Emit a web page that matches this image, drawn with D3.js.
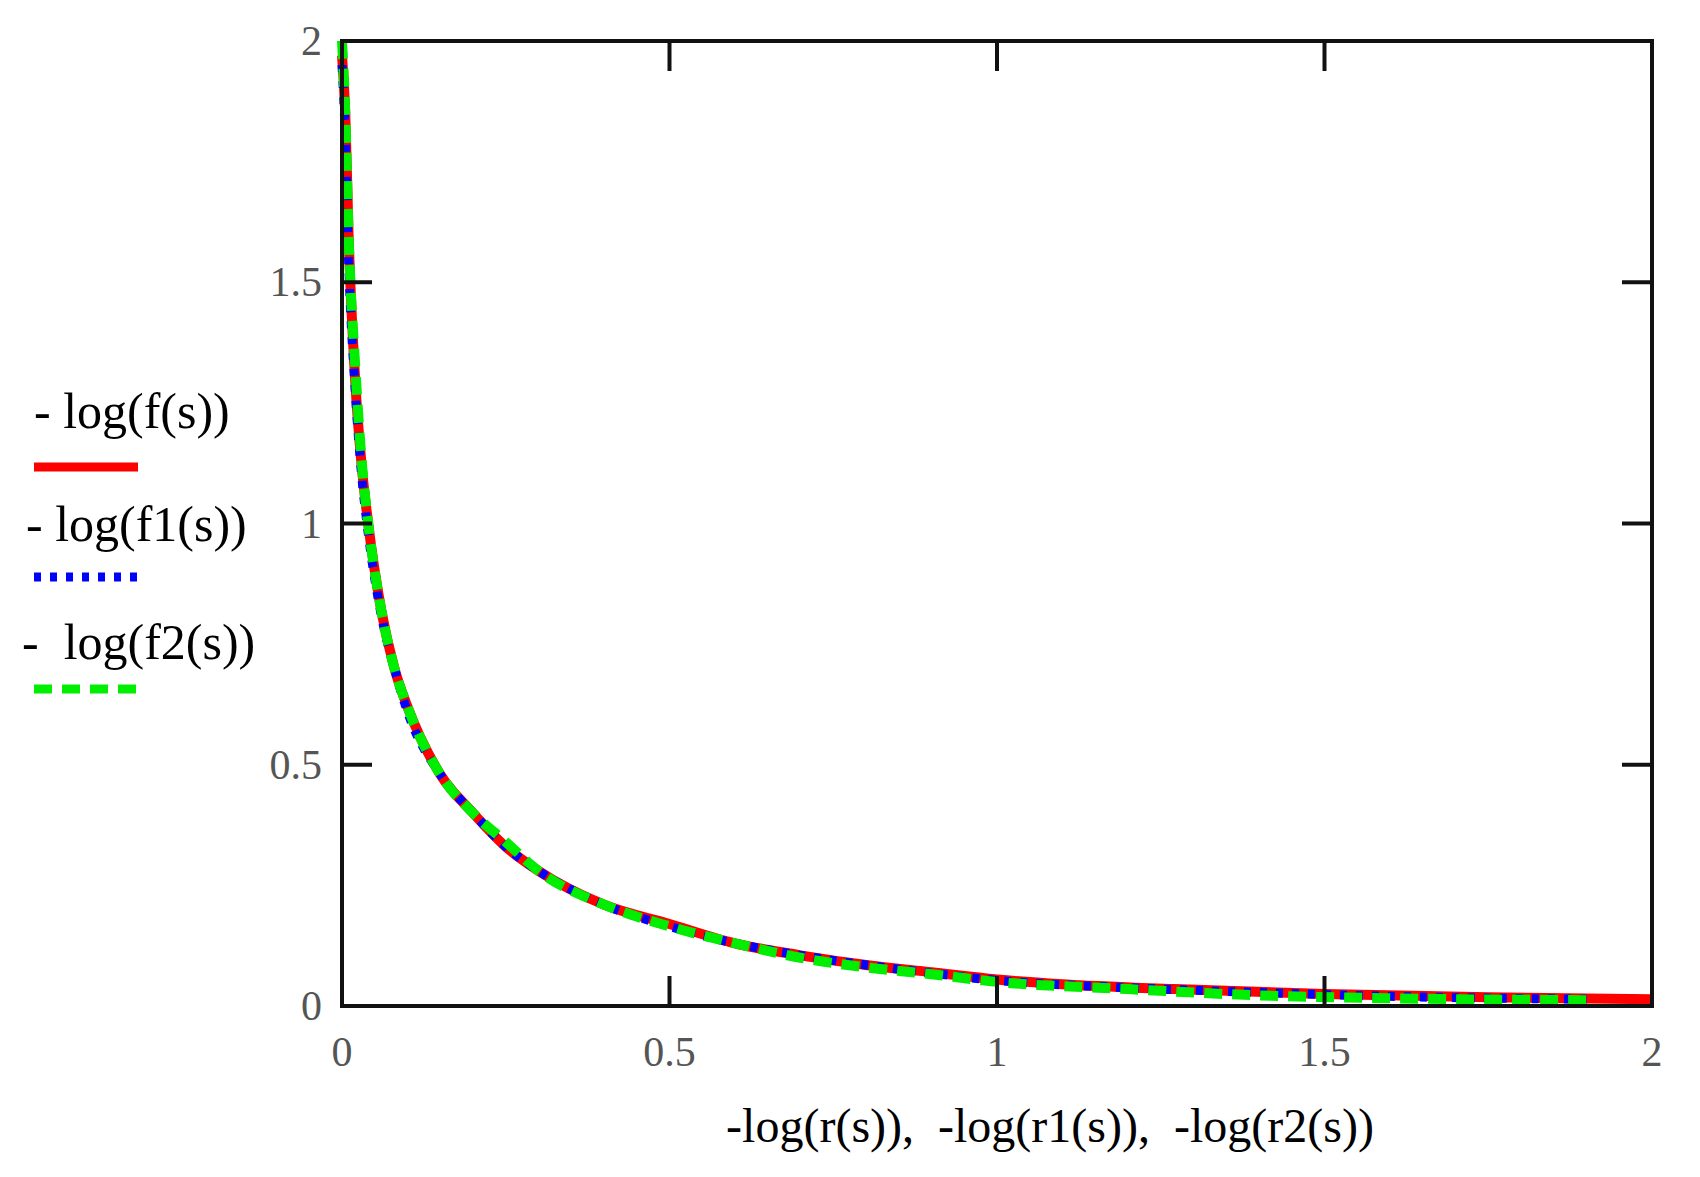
<!DOCTYPE html>
<html><head><meta charset="utf-8">
<script src="https://cdn.jsdelivr.net/npm/d3@7"></script>
<style>body{margin:0;background:#fff}</style>
</head><body>
<script>
var width = 1700, height = 1177
var ticks = [0, 0.5, 1, 1.5, 2]
var tickLabels = ['0', '0.5', '1', '1.5', '2']

// -log(r(s)) vs -log(f(s))
var fX = [0, 0.005, 0.01, 0.02, 0.03, 0.04, 0.06, 0.08, 0.1, 0.15, 0.2, 0.25, 0.3, 0.4, 0.5, 0.6, 0.7, 0.8, 0.9, 1.0, 1.1, 1.27, 1.5, 1.75, 2.0]
var fY = [1.97, 1.85, 1.6, 1.3, 1.12, 1.0, 0.82, 0.7, 0.62, 0.48, 0.4, 0.33, 0.28, 0.21, 0.17, 0.13, 0.105, 0.085, 0.07, 0.055, 0.045, 0.035, 0.025, 0.018, 0.014]
var f1X = [0, 0.005, 0.01, 0.02, 0.03, 0.04, 0.06, 0.08, 0.1, 0.15, 0.2, 0.25, 0.3, 0.4, 0.5, 0.6, 0.7, 0.8, 0.9, 1.0, 1.2, 1.4, 1.6, 1.9]
var f1Y = [1.95, 1.8, 1.55, 1.28, 1.1, 0.98, 0.81, 0.7, 0.61, 0.48, 0.4, 0.33, 0.28, 0.21, 0.165, 0.13, 0.105, 0.085, 0.068, 0.053, 0.038, 0.028, 0.02, 0.014]
var f2X = [0, 0.005, 0.01, 0.02, 0.03, 0.04, 0.06, 0.08, 0.1, 0.15, 0.2, 0.25, 0.3, 0.4, 0.5, 0.6, 0.7, 0.8, 0.9, 1.0, 1.2, 1.4, 1.6, 1.9]
var f2Y = [2.0, 1.85, 1.6, 1.33, 1.13, 1.0, 0.82, 0.7, 0.62, 0.48, 0.4, 0.34, 0.28, 0.21, 0.165, 0.13, 0.1, 0.08, 0.066, 0.05, 0.035, 0.022, 0.016, 0.012]

var L = 342, R = 1652, T = 41, B = 1006
var svg = d3.select('body').append('svg').attr('width', width).attr('height', height)
var x = d3.scaleLinear().domain([0, 2]).range([L, R])
var y = d3.scaleLinear().domain([0, 2]).range([B, T])

function zip(xs, ys) { return xs.map(function (v, i) { return [v, ys[i]] }) }
var line = d3.line().x(function (d) { return x(d[0]) }).y(function (d) { return y(d[1]) }).curve(d3.curveMonotoneX)

var series = [
    { pts: zip(fX, fY), color: '#ff0000', dash: null, w: 10 },
    { pts: zip(f1X, f1Y), color: '#0000ff', dash: '7,9', w: 9 },
    { pts: zip(f2X, f2Y), color: '#00ee00', dash: '18,10', w: 10 }
]
series.forEach(function (s) {
    svg.append('path').datum(s.pts).attr('d', line).attr('fill', 'none')
        .attr('stroke', s.color).attr('stroke-width', s.w).attr('stroke-dasharray', s.dash)
})

// frame
svg.append('rect').attr('x', L).attr('y', T).attr('width', R - L).attr('height', B - T)
    .attr('fill', 'none').attr('stroke', '#111').attr('stroke-width', 4)

var g = svg.append('g')
ticks.forEach(function (t, i) {
    if (i > 0 && i < 4) {
        g.append('line').attr('x1', x(t)).attr('x2', x(t)).attr('y1', T).attr('y2', T + 30).attr('stroke', '#111').attr('stroke-width', 4)
        g.append('line').attr('x1', x(t)).attr('x2', x(t)).attr('y1', B).attr('y2', B - 30).attr('stroke', '#111').attr('stroke-width', 4)
        g.append('line').attr('y1', y(t)).attr('y2', y(t)).attr('x1', L).attr('x2', L + 30).attr('stroke', '#111').attr('stroke-width', 4)
        g.append('line').attr('y1', y(t)).attr('y2', y(t)).attr('x1', R).attr('x2', R - 30).attr('stroke', '#111').attr('stroke-width', 4)
    }
    g.append('text').attr('x', x(t)).attr('y', 1066).attr('text-anchor', 'middle')
        .attr('font-family', 'Liberation Serif').attr('font-size', 42).attr('fill', '#555').text(tickLabels[i])
    g.append('text').attr('x', 322).attr('y', y(t) + 14).attr('text-anchor', 'end')
        .attr('font-family', 'Liberation Serif').attr('font-size', 42).attr('fill', '#555').text(tickLabels[i])
})

svg.append('text').attr('x', 1050).attr('y', 1142).attr('text-anchor', 'middle')
    .attr('font-family', 'Liberation Serif').attr('font-size', 48).attr('xml:space', 'preserve')
    .text('-log(r(s)),  -log(r1(s)),  -log(r2(s))')

var legend = [
    { label: '- log(f(s))', lx: 34, ly: 428, sy: 467 },
    { label: '- log(f1(s))', lx: 26, ly: 541, sy: 577 },
    { label: '-  log(f2(s))', lx: 22, ly: 659, sy: 689 }
]
legend.forEach(function (l, i) {
    svg.append('text').attr('x', l.lx).attr('y', l.ly).attr('xml:space', 'preserve')
        .attr('font-family', 'Liberation Serif').attr('font-size', 50).text(l.label)
    svg.append('line').attr('x1', 34).attr('x2', 138).attr('y1', l.sy).attr('y2', l.sy)
        .attr('stroke', series[i].color).attr('stroke-width', 9).attr('stroke-dasharray', series[i].dash)
})
</script>
</body></html>
